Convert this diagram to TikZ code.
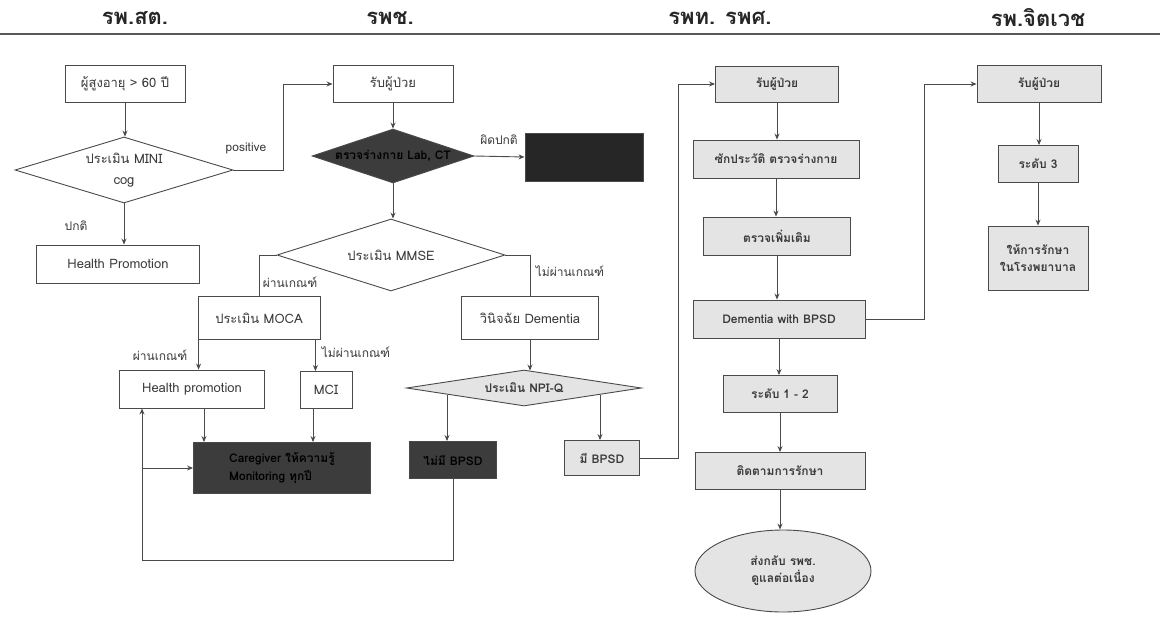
\documentclass[tikz,border=0pt]{standalone}
\usepackage{fontspec}
\setmainfont[Script=Thai]{Loma}
\usetikzlibrary{shapes.geometric,arrows.meta,calc}
\definecolor{ln}{HTML}{4A4A4A}
\definecolor{dk}{HTML}{3C3C3C}
\definecolor{blk}{HTML}{262626}
\definecolor{lt}{HTML}{E4E4E4}
\definecolor{tx}{HTML}{3A3A3A}
\tikzset{
  body/.style={font=\fontsize{13}{17}\selectfont, text=tx},
  box/.style={body, draw=ln, line width=0.9pt, fill=white, inner sep=1pt, align=center},
  darkbox/.style={box, fill=dk, text=black, font=\bfseries\fontsize{12}{18}\selectfont},
  greybox/.style={box, fill=lt, text=tx, font=\bfseries\fontsize{12}{17}\selectfont},
  dia/.style={box, shape=diamond, inner sep=0pt},
  dtext/.style={body, align=center, inner sep=0pt},
  oval/.style={greybox, shape=ellipse, inner sep=0pt},
  lbl/.style={body, font=\fontsize{12}{14}\selectfont, inner sep=0pt},
  head/.style={font=\bfseries\fontsize{22}{24}\selectfont, text=black!85, inner sep=0pt},
  arr/.style={draw=ln, line width=0.9pt, -{Stealth[length=6pt,width=5pt]}},
  con/.style={draw=ln, line width=0.9pt},
}
\begin{document}
\begin{tikzpicture}[x=1pt,y=-1pt]
\useasboundingbox (0,0) rectangle (1160,619);
\fill[white] (0,0) rectangle (1160,619);

% column headings
\node[head] (h1) at (135,18) {รพ.สต.};
\node[head] (h2) at (390,18) {รพช.};
\node[head] (h3) at (720,18) {รพท. รพศ.};
\node[head] (h4) at (1038,18) {รพ.จิตเวช};
\coordinate (rl) at (0,34);
\coordinate (rr) at (1160,34);
\draw[draw=black!65, line width=2pt] (rl) -- (rr);

% sub-district hospital
\node[box, minimum width=120pt, minimum height=37pt] (elder) at (125,84) {ผู้สูงอายุ > 60 ปี};
\node[dia, minimum width=218pt, minimum height=66pt] (minicog) at (124,170) {};
\node[dtext] (minicogt) at (minicog.center) {ประเมิน MINI\\[4pt]cog};
\node[box, minimum width=163pt, minimum height=38pt] (hp1) at (118,264) {Health Promotion};
\node[lbl] (lpos) at (246,148) {positive};
\node[lbl] (lnorm) at (76,226) {ปกติ};

% community hospital
\node[box, minimum width=120pt, minimum height=37pt] (recv) at (393,84) {รับผู้ป่วย};
\node[dia, minimum width=162pt, minimum height=54pt, fill=dk] (chk) at (393,156) {};
\node[dtext, text=black, font=\bfseries\fontsize{12}{14}\selectfont] (chkt) at (chk.center) {ตรวจร่างกาย Lab, CT};
\node[box, fill=blk, minimum width=118pt, minimum height=48pt] (blkbox) at (584,157) {};
\node[lbl] (labn) at (499,140) {ผิดปกติ};
\node[dia, minimum width=228pt, minimum height=72pt] (mmse) at (391,255) {};
\node[dtext] (mmset) at (mmse.center) {ประเมิน MMSE};
\node[box, minimum width=122pt, minimum height=43pt] (moca) at (259,318) {ประเมิน MOCA};
\node[box, minimum width=137pt, minimum height=43pt] (dem) at (530,318) {วินิจฉัย Dementia};
\node[lbl] (lpass1) at (290,282) {ผ่านเกณฑ์};
\node[lbl] (lfail1) at (570,271) {ไม่ผ่านเกณฑ์};
\node[box, minimum width=145pt, minimum height=38pt] (hp2) at (192,389) {Health promotion};
\node[box, minimum width=52pt, minimum height=37pt] (mci) at (326,390) {MCI};
\node[lbl] (lpass2) at (160,355) {ผ่านเกณฑ์};
\node[lbl] (lfail2) at (356,352) {ไม่ผ่านเกณฑ์};
\node[dia, minimum width=235pt, minimum height=36pt, fill=lt] (npiq) at (524,388) {};
\node[dtext, font=\bfseries\fontsize{12}{14}\selectfont] (npiqt) at (npiq.center) {ประเมิน NPI-Q};
\node[darkbox, minimum width=87pt, minimum height=37pt] (nobpsd) at (453,460) {ไม่มี BPSD};
\node[greybox, minimum width=75pt, minimum height=35pt] (bpsd) at (602,458) {มี BPSD};
\node[darkbox, minimum width=177pt, minimum height=51pt, align=left] (cg) at (282,468) {Caregiver ให้ความรู้\\Monitoring ทุกปี};

% provincial / regional hospital
\node[greybox, minimum width=123pt, minimum height=36pt] (r1) at (777,84) {รับผู้ป่วย};
\node[greybox, minimum width=166pt, minimum height=38pt] (r2) at (776,159) {ซักประวัติ ตรวจร่างกาย};
\node[greybox, minimum width=147pt, minimum height=38pt] (r3) at (777,236) {ตรวจเพิ่มเติม};
\node[greybox, minimum width=172pt, minimum height=38pt] (r4) at (779,319) {Dementia with BPSD};
\node[greybox, minimum width=114pt, minimum height=37pt] (r5) at (780,394) {ระดับ 1 - 2};
\node[greybox, minimum width=170pt, minimum height=37pt] (r6) at (780,471) {ติดตามการรักษา};
\node[oval, minimum width=176pt, minimum height=82pt] (back) at (783,571) {ส่งกลับ รพช.\\ดูแลต่อเนื่อง};

% psychiatric hospital
\node[greybox, minimum width=124pt, minimum height=37pt] (p1) at (1039,84) {รับผู้ป่วย};
\node[greybox, minimum width=80pt, minimum height=37pt] (p2) at (1038,164) {ระดับ 3};
\node[greybox, minimum width=100pt, minimum height=64pt] (p3) at (1038,258) {ให้การรักษา\\ในโรงพยาบาล};

% connectors: sub-district
\draw[arr] (elder.south) -- (elder.south |- minicog.north);
\draw[arr] (minicog.south) -- (minicog.south |- hp1.north);
\draw[arr] (minicog.east) -- ++(50,0) |- (recv.west);

% connectors: community hospital
\draw[arr] (recv.south) -- (recv.south |- chk.north);
\draw[arr] (chk.east) -- (blkbox.west);
\draw[arr] (chk.south) -- (chk.south |- mmse.north);
\draw[con] (mmse.west) -| (moca.north);
\draw[con] (mmse.east) -| (dem.north);
\coordinate (m1) at ($(moca.south west)+(1,0)$);
\coordinate (m2) at ($(moca.south east)+(-5,0)$);
\draw[arr] (m1) -- (m1 |- hp2.north);
\draw[arr] (m2) -- (m2 |- mci.north);
\draw[arr] (dem.south) -- ($(dem.south |- npiq.north)+(0,1)$);
\coordinate (n1) at ($(npiq.center)+(-77,7)$);
\coordinate (n2) at ($(npiq.center)+(76,7)$);
\draw[arr] (n1) -- (n1 |- nobpsd.north);
\draw[arr] (n2) -- (n2 |- bpsd.north);
\coordinate (c1) at ($(hp2.south)+(12,0)$);
\coordinate (c2) at ($(mci.south)+(-13,0)$);
\draw[arr] (c1) -- (c1 |- cg.north);
\draw[arr] (c2) -- (c2 |- cg.north);
\coordinate (lp) at (142,560);
\draw[arr] (nobpsd.south) |- (lp) -- (lp |- hp2.south);
\draw[arr] (lp |- cg.west) -- (cg.west);
\draw[arr] (bpsd.east) -- ++(38,0) |- (r1.west);

% connectors: provincial / regional
\draw[arr] (r1.south) -- (r1.south |- r2.north);
\draw[arr] (r2.south) -- (r2.south |- r3.north);
\draw[arr] (r3.south) -- (r3.south |- r4.north);
\draw[arr] (r4.south) -- (r4.south |- r5.north);
\draw[arr] (r5.south) -- (r5.south |- r6.north);
\draw[arr] (r6.south) -- (r6.south |- back.north);
\draw[arr] (r4.east) -- ++(59,0) |- (p1.west);

% connectors: psychiatric
\draw[arr] (p1.south) -- (p1.south |- p2.north);
\draw[arr] (p2.south) -- (p2.south |- p3.north);
\end{tikzpicture}
\end{document}
